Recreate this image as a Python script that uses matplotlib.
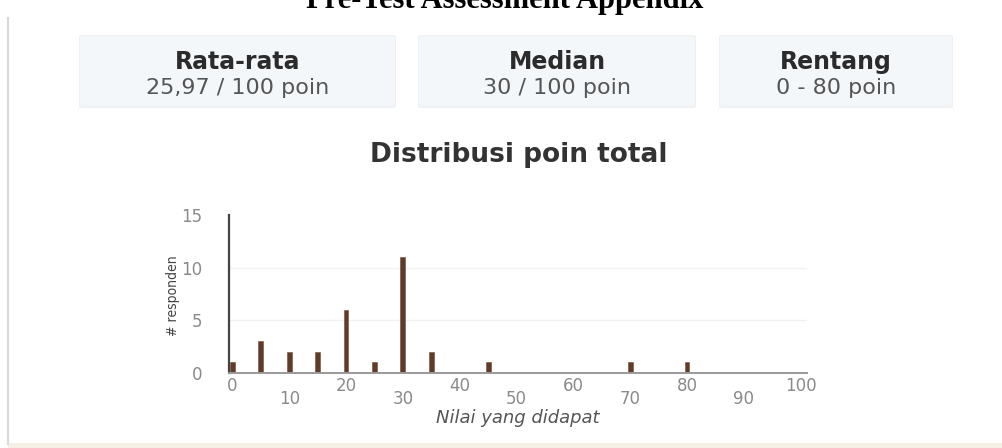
import matplotlib
matplotlib.use("Agg")
import matplotlib.pyplot as plt
from matplotlib.patches import FancyBboxPatch, Rectangle
from matplotlib.lines import Line2D

# -------------------------------------------------------------------------
# Data
# -------------------------------------------------------------------------
scores = [0, 5, 10, 15, 20, 25, 30, 35, 45, 70, 80]
counts = [1, 3, 2, 2, 6, 1, 11, 2, 1, 1, 1]

card_titles = ["Rata-rata", "Median", "Rentang"]
card_values = ["25,97 / 100 poin", "30 / 100 poin", "0 - 80 poin"]

major_ticks = [0, 20, 40, 60, 80, 100]
minor_ticks = [10, 30, 50, 70, 90]
y_ticks = [0, 5, 10, 15]
grid_vals = [5, 10]

W, H = 1003, 448
plt.rcParams['font.family'] = ['DejaVu Sans']

fig = plt.figure(figsize=(W / 100, H / 100), dpi=100)
fig.patch.set_facecolor("white")

def fx(px):
    return px / W

def fy(py):
    return 1 - py / H

# -------------------------------------------------------------------------
# Page decorations
# -------------------------------------------------------------------------
fig.text(fx(505), fy(8), "Pre-Test Assessment Appendix", ha="center", va="baseline",
         fontsize=22, fontweight="bold", family="Liberation Serif", color="black")
fig.add_artist(Line2D([fx(8), fx(8)], [fy(18), fy(444)], color="#d9d9d9", lw=1.5))
fig.add_artist(Rectangle((fx(8), 0), fx(995), 5 / H, facecolor="#f6efe6",
                         edgecolor="none", transform=fig.transFigure))

# -------------------------------------------------------------------------
# Summary cards
# -------------------------------------------------------------------------
cards = [(80, 395), (419, 695), (720, 952)]
top, bottom = 36, 106
for (x0, x1), title, val in zip(cards, card_titles, card_values):
    shadow = FancyBboxPatch((fx(x0 - 1), fy(bottom + 2)), fx(x1 - x0 + 2), (bottom - top + 3) / H,
                            boxstyle="round,pad=0,rounding_size=0.004",
                            facecolor="#eef0f2", edgecolor="none", transform=fig.transFigure)
    fig.add_artist(shadow)
    box = FancyBboxPatch((fx(x0), fy(bottom)), fx(x1 - x0), (bottom - top) / H,
                         boxstyle="round,pad=0,rounding_size=0.004",
                         facecolor="#f4f7fa", edgecolor="none", transform=fig.transFigure)
    fig.add_artist(box)
    cx = fx((x0 + x1) / 2)
    fig.text(cx, fy(62), title, ha="center", va="center", fontsize=17,
             fontweight="bold", color="#2b2b2b")
    fig.text(cx, fy(88), val, ha="center", va="center", fontsize=16, color="#555555")

# -------------------------------------------------------------------------
# Histogram
# -------------------------------------------------------------------------
fig.text(fx(519), fy(155), "Distribusi poin total", ha="center", va="center",
         fontsize=19, fontweight="bold", color="#333333")

ax = fig.add_axes([fx(229), fy(373), fx(807 - 229), (373 - 215) / H])
ax.set_facecolor("none")
for g in grid_vals:
    ax.axhline(g, color="#f1f1f1", lw=1, zorder=0)
ax.bar(scores, counts, width=0.85, color="#5e3b2a", edgecolor="#7a4a30", linewidth=0.4, zorder=2)

ax.set_xlim(-0.6, 101.1)
ax.set_ylim(0, 15)
for s in ["top", "right"]:
    ax.spines[s].set_visible(False)
ax.spines["left"].set_color("#444444")
ax.spines["left"].set_linewidth(1.6)
ax.spines["bottom"].set_color("#9a9a9a")
ax.spines["bottom"].set_linewidth(1.4)

ax.set_yticks(y_ticks)
ax.set_xticks(major_ticks)
ax.set_xticks(minor_ticks, minor=True)
ax.set_xticklabels([str(t) for t in major_ticks])
ax.set_xticklabels([str(t) for t in minor_ticks], minor=True)
ax.tick_params(axis="x", which="major", length=0, pad=3, labelsize=12, labelcolor="#8a8a8a")
ax.tick_params(axis="x", which="minor", length=0, pad=12.5, labelsize=12, labelcolor="#8a8a8a")
ax.tick_params(axis="y", length=0, pad=19, labelsize=12, labelcolor="#8a8a8a")

ax.set_xlabel("Nilai yang didapat", fontsize=13, style="italic", color="#555555")
ax.xaxis.label.set_va("center")
ax.xaxis.set_label_coords(0.5, -0.285)
ax.set_ylabel("# responden", fontsize=10, color="#444444", fontstretch="condensed")
ax.yaxis.set_label_coords(-0.085, 0.49)

fig.savefig("out.png", dpi=100)
